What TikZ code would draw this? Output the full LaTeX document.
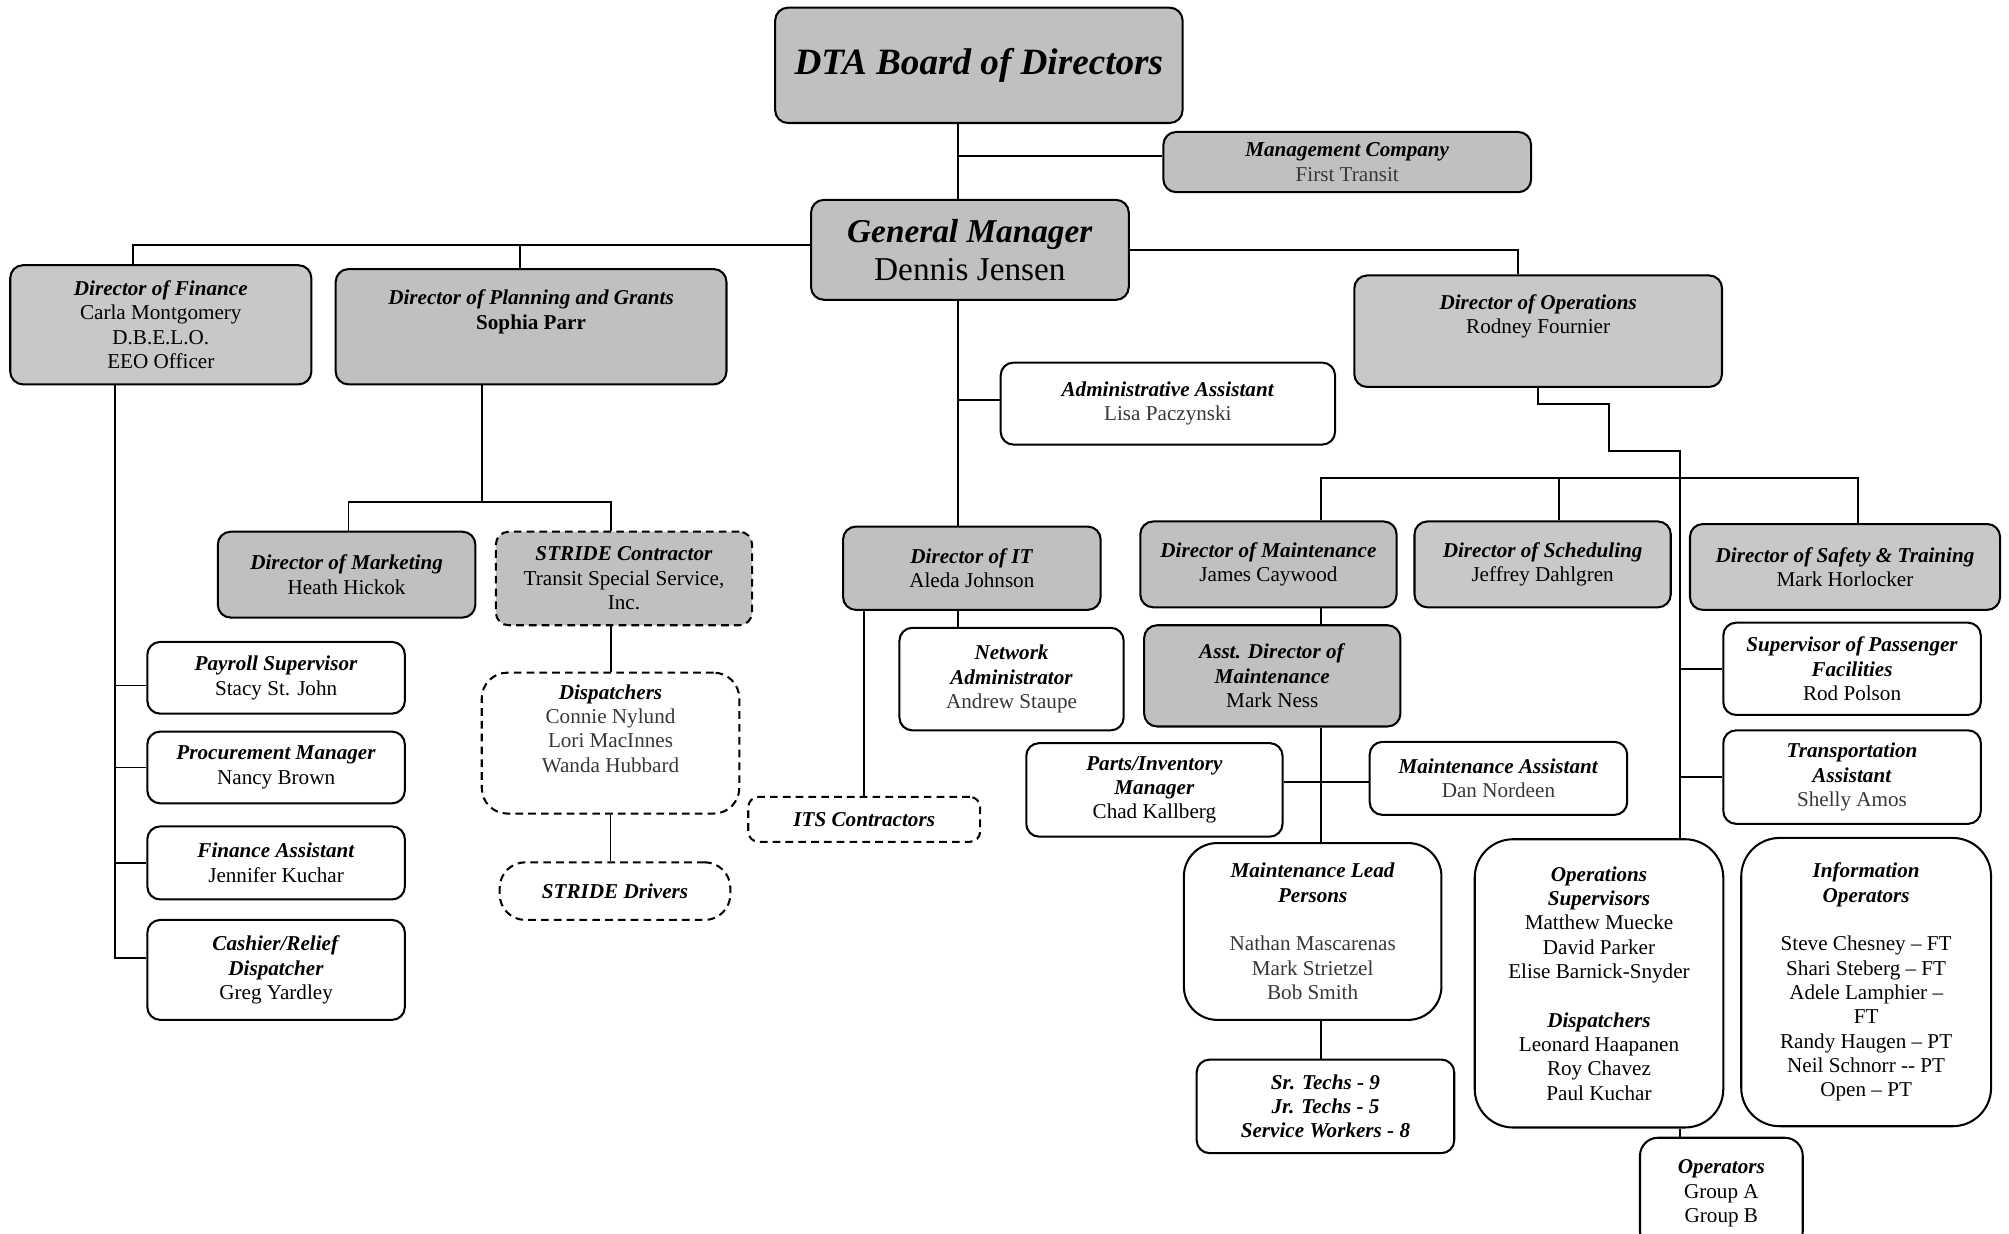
\documentclass[tikz,border=0pt]{standalone}
\usepackage{fontspec}
\setmainfont{Liberation Serif}
\usetikzlibrary{calc}
\definecolor{boxgray}{RGB}{192,192,192}
\definecolor{boxgrayl}{RGB}{200,200,200}
\definecolor{softtext}{RGB}{55,55,55}
\newcommand\hdr[1]{\textbf{\textit{#1}}}
\newcommand\soft[1]{\textcolor{softtext}{#1}}
\begin{document}
\begin{tikzpicture}[x=1pt,y=-1pt,
  box/.style={draw, line width=1.6pt, rounded corners=10pt, align=center, inner sep=0pt, font=\fontsize{16.5}{19}\selectfont},
  gbox/.style={box, fill=boxgray},
  lbox/.style={box, fill=boxgrayl},
  wbox/.style={box, fill=white},
  dbox/.style={dash pattern=on 6pt off 4pt},
  conn/.style={draw, line width=1.5pt}]
\useasboundingbox (0,0) rectangle (1568,963);

% ---------- nodes ----------
\node[gbox, minimum width=318pt, minimum height=90pt, font=\fontsize{29}{34}\selectfont] (board) at (764,51) {\hdr{DTA Board of Directors}};
\node[gbox, minimum width=287pt, minimum height=47pt] (mgmt) at (1051.5,126.5) {\hdr{Management Company}\\\soft{First Transit}};
\node[gbox, minimum width=248pt, minimum height=78pt, font=\fontsize{26}{30}\selectfont] (gm) at (757,195) {\hdr{General Manager}\\Dennis Jensen};

\node[lbox, minimum width=235pt, minimum height=93pt] (fin) at (125.5,253.5) {\hdr{Director of Finance}\\Carla Montgomery\\D.B.E.L.O.\\EEO Officer};
\node[gbox, minimum width=305pt, minimum height=90pt] (plan) at (414.5,255) {\hdr{Director of Planning and Grants}\\\textbf{Sophia Parr}\\[8pt]};
\node[lbox, minimum width=287pt, minimum height=87pt] (ops) at (1200.5,258.5) {\hdr{Director of Operations}\\Rodney Fournier\\[8pt]};
\node[wbox, minimum width=261pt, minimum height=64pt] (admin) at (911.5,315) {\hdr{Administrative Assistant}\\\soft{Lisa Paczynski}};

\node[gbox, minimum width=201pt, minimum height=67pt] (mkt) at (270.5,448.5) {\hdr{Director of Marketing}\\Heath Hickok};
\node[gbox, dbox, minimum width=200pt, minimum height=73pt] (stride) at (487,451.5) {\hdr{STRIDE Contractor}\\Transit Special Service,\\Inc.};
\node[gbox, minimum width=201pt, minimum height=65pt] (it) at (758.5,443.5) {\hdr{Director of IT}\\Aleda Johnson};
\node[gbox, minimum width=200pt, minimum height=67pt] (maint) at (990,440.5) {\hdr{Director of Maintenance}\\James Caywood};
\node[lbox, minimum width=200pt, minimum height=67pt] (sched) at (1204,440.5) {\hdr{Director of Scheduling}\\Jeffrey Dahlgren};
\node[lbox, minimum width=242pt, minimum height=67pt] (safety) at (1440,442.5) {\hdr{Director of Safety \& Training}\\Mark Horlocker};

\node[wbox, minimum width=201pt, minimum height=56pt] (payroll) at (215.5,529) {\hdr{Payroll Supervisor}\\Stacy St. John};
\node[wbox, minimum width=201pt, minimum height=56pt] (proc) at (215.5,599) {\hdr{Procurement Manager}\\Nancy Brown};
\node[wbox, minimum width=201pt, minimum height=57pt] (finas) at (215.5,673.5) {\hdr{Finance Assistant}\\Jennifer Kuchar};
\node[wbox, minimum width=201pt, minimum height=78pt] (cash) at (215.5,757) {\hdr{Cashier/Relief}\\\hdr{Dispatcher}\\Greg Yardley};

\node[wbox, dbox, rounded corners=20pt, minimum width=201pt, minimum height=110pt] (disp) at (476.5,580) {\hdr{Dispatchers}\\\soft{Connie Nylund}\\\soft{Lori MacInnes}\\\soft{Wanda Hubbard}\\[4pt]};
\node[wbox, dbox, rounded corners=20pt, minimum width=180pt, minimum height=45pt] (drivers) at (480,695.5) {\hdr{STRIDE Drivers}};
\node[wbox, dbox, rounded corners=8pt, minimum width=181pt, minimum height=35pt] (its) at (674.5,639.5) {\hdr{ITS Contractors}};

\node[wbox, minimum width=175pt, minimum height=80pt] (net) at (789.5,530) {\hdr{Network}\\\hdr{Administrator}\\\soft{Andrew Staupe}};
\node[gbox, minimum width=200pt, minimum height=79pt] (asst) at (993,527.5) {\hdr{Asst. Director of}\\\hdr{Maintenance}\\Mark Ness};
\node[wbox, minimum width=200pt, minimum height=73pt] (parts) at (901,616.5) {\hdr{Parts/Inventory}\\\hdr{Manager}\\Chad Kallberg};
\node[wbox, minimum width=201pt, minimum height=57pt] (mas) at (1169.5,607.5) {\hdr{Maintenance Assistant}\\\soft{Dan Nordeen}};
\node[wbox, rounded corners=26pt, minimum width=201pt, minimum height=138pt] (lead) at (1024.5,727) {\hdr{Maintenance Lead}\\\hdr{Persons}\\\strut\\\soft{Nathan Mascarenas}\\\soft{Mark Strietzel}\\\soft{Bob Smith}};
\node[wbox, minimum width=201pt, minimum height=73pt] (techs) at (1034.5,863.5) {\hdr{Sr. Techs - 9}\\\hdr{Jr. Techs - 5}\\\hdr{Service Workers - 8}};

\node[wbox, minimum width=201pt, minimum height=72pt] (spf) at (1445.5,522) {\hdr{Supervisor of Passenger}\\\hdr{Facilities}\\Rod Polson};
\node[wbox, minimum width=201pt, minimum height=73pt] (trans) at (1445.5,606.5) {\hdr{Transportation}\\\hdr{Assistant}\\\soft{Shelly Amos}};
\node[wbox, rounded corners=30pt, minimum width=194pt, minimum height=225pt] (opsup) at (1248,767.5) {\hdr{Operations}\\\hdr{Supervisors}\\Matthew Muecke\\David Parker\\Elise Barnick-Snyder\\\strut\\\hdr{Dispatchers}\\Leonard Haapanen\\Roy Chavez\\Paul Kuchar};
\node[wbox, rounded corners=30pt, minimum width=195pt, minimum height=225pt] (info) at (1456.5,766.5) {\hdr{Information}\\\hdr{Operators}\\\strut\\Steve Chesney – FT\\Shari Steberg – FT\\Adele Lamphier –\\FT\\Randy Haugen – PT\\Neil Schnorr -{}- PT\\Open – PT};
\node[wbox, rounded corners=14pt, minimum width=127pt, minimum height=87pt] (oper) at (1343.5,931.5) {\hdr{Operators}\\Group A\\Group B};

% ---------- helper coordinates ----------
\coordinate (spine) at (748,0);
\coordinate (fs) at (90,0);
\coordinate (pj) at (376,392);
\coordinate (o1) at (1256,315);
\coordinate (o2) at (1311,352);
\coordinate (mx) at (1031,0);
\coordinate (bar) at (1031,373);
\coordinate (schx) at (1217,373);
\coordinate (sx) at (1450,373);
\coordinate (pm) at (0,610);

% ---------- connectors ----------
\draw[conn] (board.south -| spine) -- (gm.north -| spine);
\draw[conn] ([yshift=5]spine |- mgmt.west) -- ([yshift=5]mgmt.west);
\draw[conn] ([yshift=4]gm.west) -| ([xshift=-21.5]fin.north);
\draw[conn] ([xshift=-8.5]plan.north) -- ([xshift=-8.5,yshift=4]plan.north |- gm.west);
\draw[conn] (gm.east) -| ([xshift=-15.5]ops.north);
\draw[conn] (gm.south -| spine) -- (it.north -| spine);
\draw[conn] ([yshift=3]spine |- admin.west) -- ([yshift=3]admin.west);

% finance
\draw[conn] (fs |- fin.south) -- ([yshift=9]fs |- cash.west) -- ([yshift=9]cash.west);
\draw[conn] ([yshift=-6]fs |- payroll.west) -- ([yshift=-6]payroll.west);
\draw[conn] (fs |- proc.west) -- (proc.west);
\draw[conn] (fs |- finas.west) -- (finas.west);

% planning
\draw[conn] ([xshift=-38.5]plan.south) -- ([xshift=-38.5]plan.south |- pj);
\draw[conn] ([xshift=1.5]mkt.north) |- (pj) -| ([xshift=-10]stride.north);
\draw[conn] ([xshift=-10]stride.south) -- ([xshift=-10]stride.south |- disp.north);
\draw[conn] (disp.south) -- (disp.south |- drivers.north);

% IT
\draw[conn] (spine |- it.south) -- (spine |- net.north);
\draw[conn] (its.north |- it.south) -- (its.north);

% operations
\draw[conn] (ops.south) |- (o1) |- (o2) -- (o2 |- opsup.north);
\draw[conn] (mx |- maint.north) -- (bar) -- (sx) -- (sx |- safety.north);
\draw[conn] (schx) -- (schx |- sched.north);
\draw[conn] (mx |- maint.south) -- (mx |- asst.north);
\draw[conn] (mx |- asst.south) -- (mx |- lead.north);
\draw[conn] (parts.east |- pm) -- (mas.west |- pm);
\draw[conn] (mx |- lead.south) -- (mx |- techs.north);
\draw[conn] (o2 |- spf.west) -- (spf.west);
\draw[conn] (o2 |- trans.west) -- (trans.west);
\draw[conn] (o2 |- opsup.south) -- (o2 |- oper.north);
\end{tikzpicture}
\end{document}
